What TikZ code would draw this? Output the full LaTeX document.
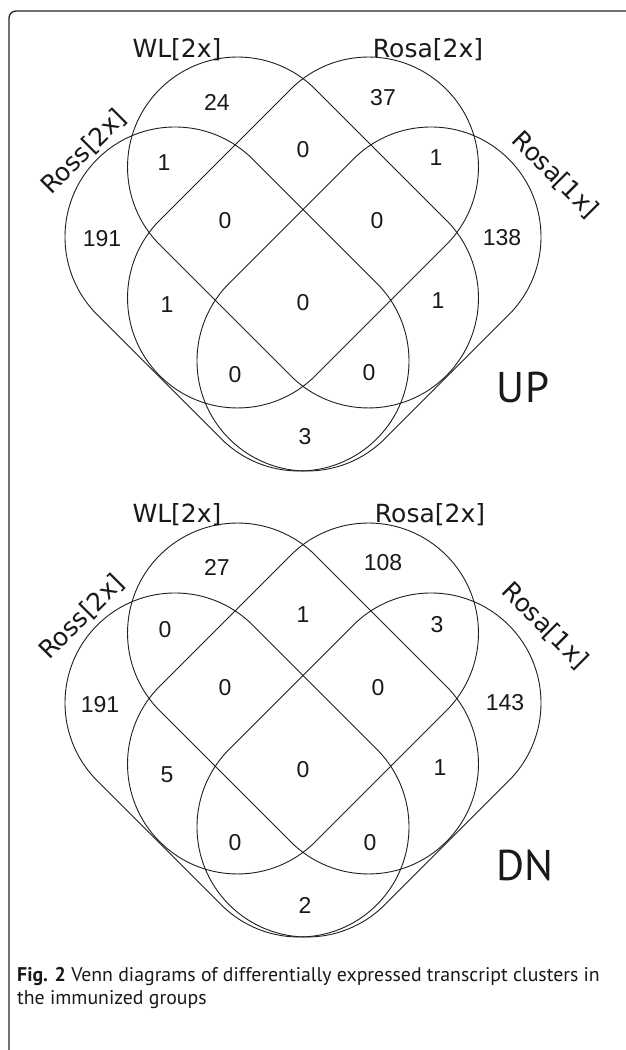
\documentclass[tikz,border=0pt]{standalone}
\usepackage{fontspec}
\setmainfont{Liberation Sans}
\newfontfamily\lblfont{DejaVu Sans}
\newfontfamily\capfont{PT Sans}
\newcommand\vennset[4]{%
  \draw[setline, shift={(#1,#2)}, rotate=#3]
    (-#4,110) -- (#4,110) arc[start angle=90,end angle=-90,radius=110]
    -- (-#4,-110) arc[start angle=270,end angle=90,radius=110] -- cycle;}
\begin{document}
\begin{tikzpicture}[x=1pt,y=1pt,
  setline/.style={line width=0.9pt, draw=black!88},
  num/.style={inner sep=0pt, font=\fontsize{23}{23}\selectfont, text=black!90},
  setlbl/.style={inner sep=0pt, font=\lblfont\fontsize{25}{25}\selectfont, text=black!90},
  big/.style={inner sep=0pt, font=\capfont\fontsize{43}{43}\selectfont, text=black!90},
  captext/.style={inner sep=0pt, anchor=west, font=\capfont\fontsize{19.8}{19.8}\selectfont, text=black!90}]
\useasboundingbox (0,0) rectangle (625,1050);
\fill[white] (0,0) rectangle (625,1050);
% frame
\draw[line width=1.3pt, draw=black!85, rounded corners=7pt] (9,-10) -- (9,1039) -- (640,1039);

% ---------- UP diagram ----------
\vennset{237}{751}{-45}{87.7}
\vennset{369}{751}{45}{87.7}
\vennset{303}{817.5}{-45}{92.6}
\vennset{303}{817.5}{45}{92.6}
\node[setlbl] (u-wl) at (177,1000) {WL[2x]};
\node[setlbl] (u-rosa2) at (428,1000) {Rosa[2x]};
\node[setlbl, rotate=45] (u-ross) at (84,898) {Ross[2x]};
\node[setlbl, rotate=-45] (u-rosa1) at (555,875) {Rosa[1x]};
\node[num] (u1) at (217,948) {24};
\node[num] (u2) at (383,952) {37};
\node[num] (u3) at (303,900) {0};
\node[num] (u4) at (164,887) {1};
\node[num] (u5) at (436,892) {1};
\node[num] (u6) at (225,829) {0};
\node[num] (u7) at (377,829) {0};
\node[num] (u8) at (102,811) {191};
\node[num] (u9) at (502,812) {138};
\node[num] (u10) at (167,745) {1};
\node[num] (u11) at (303,747) {0};
\node[num] (u12) at (438,749) {1};
\node[num] (u13) at (235,675) {0};
\node[num] (u14) at (369,677) {0};
\node[num] (u15) at (305,613) {3};
\node[big] (up) at (523,663) {UP};

% ---------- DN diagram ----------
\vennset{237}{285}{-45}{87.7}
\vennset{369}{285}{45}{87.7}
\vennset{303}{351.5}{-45}{92.6}
\vennset{303}{351.5}{45}{92.6}
\node[setlbl] (d-wl) at (177,535) {WL[2x]};
\node[setlbl] (d-rosa2) at (430,535) {Rosa[2x]};
\node[setlbl, rotate=45] (d-ross) at (82,433) {Ross[2x]};
\node[setlbl, rotate=-45] (d-rosa1) at (545,424) {Rosa[1x]};
\node[num] (d1) at (217,483) {27};
\node[num] (d2) at (383,487) {108};
\node[num] (d3) at (303,435) {1};
\node[num] (d4) at (165,420) {0};
\node[num] (d5) at (437,425) {3};
\node[num] (d6) at (225,362) {0};
\node[num] (d7) at (378,362) {0};
\node[num] (d8) at (100,345) {191};
\node[num] (d9) at (505,347) {143};
\node[num] (d10) at (167,275) {5};
\node[num] (d11) at (303,280) {0};
\node[num] (d12) at (440,282) {1};
\node[num] (d13) at (235,207) {0};
\node[num] (d14) at (370,207) {0};
\node[num] (d15) at (305,145) {2};
\node[big] (dn) at (525,185) {DN};

% caption
\node[captext] (cap1) at (17,73) {\textbf{Fig. 2} Venn diagrams of differentially expressed transcript clusters in};
\node[captext] (cap2) at (17,50) {the immunized groups};
\end{tikzpicture}
\end{document}
